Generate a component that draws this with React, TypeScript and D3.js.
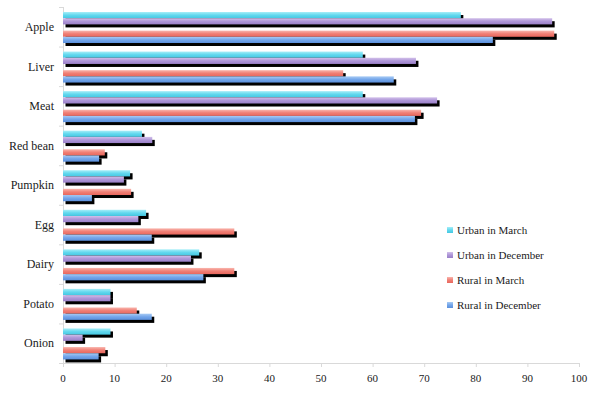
import React from "react";
import * as d3 from "d3";

// categories, top to bottom
const foods = ["Apple", "Liver", "Meat", "Red bean", "Pumpkin", "Egg", "Dairy", "Potato", "Onion"];

const seriesNames = ["Urban in March", "Urban in December", "Rural in March", "Rural in December"];

// values
const urbanMarch = [77.1, 58.1, 58.1, 15.3, 13.0, 16.1, 26.4, 9.2, 9.2];
const urbanDecember = [94.8, 68.4, 72.5, 17.3, 11.8, 14.6, 24.8, 9.2, 3.8];
const ruralMarch = [95.2, 54.3, 69.4, 8.1, 13.2, 33.2, 33.2, 14.3, 8.2];
const ruralDecember = [83.3, 64.1, 68.2, 7.0, 5.6, 17.2, 27.2, 17.2, 6.9];

const xTicks = [0, 10, 20, 30, 40, 50, 60, 70, 80, 90, 100];

const gradients = [
  ["#a6eef8", "#62d8ee", "#45c8e2"],
  ["#d2c0ea", "#ae96d8", "#9a80c8"],
  ["#f9b6ae", "#f07f75", "#e8675d"],
  ["#a8cbf4", "#74a6ea", "#5b90dc"],
];

const FONT = "Liberation Serif";
const width = 600,
  height = 400;
const margin = { top: 7, left: 63, right: 21, bottom: 37 };
const axisColor = "#d9d9d9";

export default function App() {
  const x = d3.scaleLinear().domain([0, 100]).range([margin.left, width - margin.right]);
  const y = d3.scaleBand().domain(foods).range([margin.top, height - margin.bottom]);
  // an empty slot between the urban and the rural pair
  const slots = [seriesNames[0], seriesNames[1], "", seriesNames[2], seriesNames[3]];
  const y1 = d3.scaleBand().domain(slots).range([5, 36]);

  const allSeries = [urbanMarch, urbanDecember, ruralMarch, ruralDecember];
  const data: { food: string; s: number; v: number }[] = [];
  allSeries.forEach((vals, s) => {
    vals.forEach((v, i) => data.push({ food: foods[i], s, v }));
  });

  const bottom = height - margin.bottom;

  return (
    <svg width={width} height={height} style={{ position: "absolute", left: 0, top: 0, background: "#fff" }}>
      <defs>
        {gradients.map((g, i) => (
          <linearGradient key={i} id={"grad" + i} x1={0} y1={0} x2={0} y2={1}>
            <stop offset="0%" stopColor={g[0]} />
            <stop offset="50%" stopColor={g[1]} />
            <stop offset="100%" stopColor={g[2]} />
          </linearGradient>
        ))}
      </defs>

      {/* axes */}
      <line x1={x(0) + 0.5} x2={x(0) + 0.5} y1={margin.top} y2={bottom} stroke={axisColor} />
      {[...foods.map((f) => y(f)!), bottom].map((d, i) => (
        <line key={"yt" + i} x1={x(0) - 4} x2={x(0)} y1={d + 0.5} y2={d + 0.5} stroke={axisColor} />
      ))}
      <line x1={x(0)} x2={x(100)} y1={bottom + 0.5} y2={bottom + 0.5} stroke={axisColor} />
      {xTicks.map((d) => (
        <line key={"xt" + d} x1={x(d) + 0.5} x2={x(d) + 0.5} y1={bottom} y2={bottom + 4} stroke={axisColor} />
      ))}

      {/* shadows first, then the bars */}
      {data.map((d, i) => (
        <rect
          key={"sh" + i}
          x={x(0) + 2.5}
          y={y(d.food)! + y1(seriesNames[d.s])! + 3}
          width={x(d.v) - x(0)}
          height={y1.bandwidth()}
          fill="#000"
        />
      ))}
      {data.map((d, i) => (
        <rect
          key={"b" + i}
          x={x(0)}
          y={y(d.food)! + y1(seriesNames[d.s])!}
          width={x(d.v) - x(0)}
          height={y1.bandwidth()}
          fill={`url(#grad${d.s})`}
        />
      ))}

      {foods.map((f) => (
        <text
          key={f}
          x={54}
          y={y(f)! + y.bandwidth() / 2}
          dy="0.35em"
          textAnchor="end"
          fill="#1a1a1a"
          style={{ fontFamily: FONT, fontSize: 12 }}
        >
          {f}
        </text>
      ))}

      {xTicks.map((d) => (
        <text
          key={"xl" + d}
          x={x(d)}
          y={bottom + 19}
          textAnchor="middle"
          fill="#1a1a1a"
          style={{ fontFamily: FONT, fontSize: 11 }}
        >
          {d}
        </text>
      ))}

      {seriesNames.map((s, i) => (
        <g key={s} transform={`translate(447,${230 + i * 25})`}>
          <rect x={0} y={-3} width={6} height={6} fill={`url(#grad${i})`} />
          <text x={10} y={0} dy="0.35em" fill="#1a1a1a" style={{ fontFamily: FONT, fontSize: 11 }}>
            {s}
          </text>
        </g>
      ))}
    </svg>
  );
}
